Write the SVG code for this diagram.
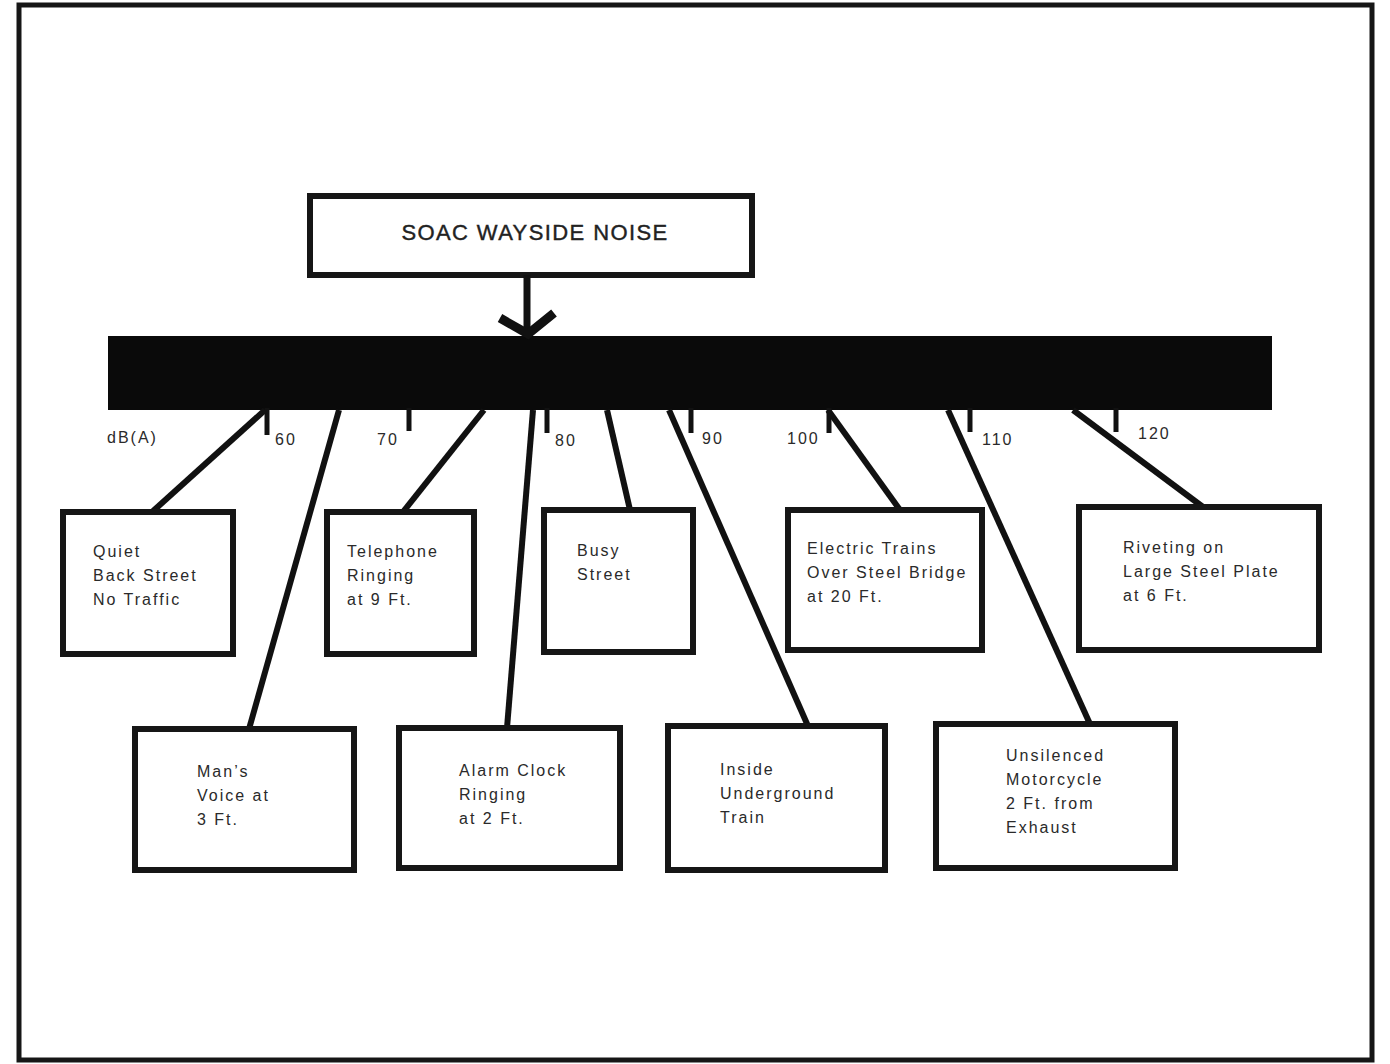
<svg xmlns="http://www.w3.org/2000/svg" width="1390" height="1064" viewBox="0 0 1390 1064">
<style>
.frame{fill:none;stroke:#161616;stroke-width:5}
.box{fill:#fff;stroke:#161616;stroke-width:6}
.conn{stroke:#111;stroke-width:6;fill:none;stroke-linecap:butt}
.tick{stroke:#111;stroke-width:5;fill:none}
.t{font-family:"Liberation Sans",Arial,sans-serif;font-size:16px;letter-spacing:2px;fill:#2a2a2a}
.title{font-family:"Liberation Sans",Arial,sans-serif;font-size:22px;letter-spacing:1.4px;fill:#222;stroke:#222;stroke-width:0.4}
</style>
<rect width="1390" height="1064" fill="#fff"/>
<rect class="frame" x="19" y="5" width="1353" height="1055"/>

<g id="title">
<rect class="box" x="310" y="196" width="442" height="79"/>
<text class="title" x="535" y="240" text-anchor="middle">SOAC WAYSIDE NOISE</text>
</g>

<g id="scale-bar">
<rect x="108" y="336" width="1164" height="74" fill="#0a0a0a"/>
<text class="t" x="107" y="443">dB(A)</text>
<g class="tick">
<line x1="267" y1="408" x2="267" y2="435"/>
<line x1="409" y1="408" x2="409" y2="431"/>
<line x1="547" y1="408" x2="547" y2="433"/>
<line x1="691" y1="408" x2="691" y2="433"/>
<line x1="829" y1="408" x2="829" y2="433"/>
<line x1="970" y1="408" x2="970" y2="432"/>
<line x1="1116" y1="408" x2="1116" y2="432"/>
</g>
<text class="t" x="275" y="445">60</text>
<text class="t" x="377" y="445">70</text>
<text class="t" x="555" y="446">80</text>
<text class="t" x="702" y="444">90</text>
<text class="t" x="787" y="444">100</text>
<text class="t" x="982" y="445">110</text>
<text class="t" x="1138" y="439">120</text>
</g>

<g id="connectors">
<line class="conn" x1="527" y1="275" x2="527" y2="336" style="stroke-width:7"/>
<polyline points="500,318 528,334 554,313" style="fill:none;stroke:#111;stroke-width:9"/>
<line class="conn" x1="265" y1="410" x2="152" y2="512"/>
<line class="conn" x1="339" y1="410" x2="249" y2="729"/>
<line class="conn" x1="484" y1="410" x2="403" y2="512"/>
<line class="conn" x1="533" y1="410" x2="507" y2="728"/>
<line class="conn" x1="607" y1="410" x2="630" y2="510"/>
<line class="conn" x1="669" y1="410" x2="808" y2="726"/>
<line class="conn" x1="828" y1="410" x2="900" y2="510"/>
<line class="conn" x1="948" y1="410" x2="1090" y2="724"/>
<line class="conn" x1="1073" y1="410" x2="1203" y2="507"/>
</g>

<g id="quiet">
<rect class="box" x="63" y="512" width="170" height="142"/>
<text class="t" x="93" y="557">Quiet</text>
<text class="t" x="93" y="581">Back Street</text>
<text class="t" x="93" y="605">No Traffic</text>
</g>
<g id="telephone">
<rect class="box" x="327" y="512" width="147" height="142"/>
<text class="t" x="347" y="557">Telephone</text>
<text class="t" x="347" y="581">Ringing</text>
<text class="t" x="347" y="605">at 9 Ft.</text>
</g>
<g id="busy">
<rect class="box" x="544" y="510" width="149" height="142"/>
<text class="t" x="577" y="556">Busy</text>
<text class="t" x="577" y="580">Street</text>
</g>
<g id="electric">
<rect class="box" x="788" y="510" width="194" height="140"/>
<text class="t" x="807" y="554">Electric Trains</text>
<text class="t" x="807" y="578">Over Steel Bridge</text>
<text class="t" x="807" y="602">at 20 Ft.</text>
</g>
<g id="riveting">
<rect class="box" x="1079" y="507" width="240" height="143"/>
<text class="t" x="1123" y="553">Riveting on</text>
<text class="t" x="1123" y="577">Large Steel Plate</text>
<text class="t" x="1123" y="601">at 6 Ft.</text>
</g>
<g id="mans-voice">
<rect class="box" x="135" y="729" width="219" height="141"/>
<text class="t" x="197" y="777">Man’s</text>
<text class="t" x="197" y="801">Voice at</text>
<text class="t" x="197" y="825">3 Ft.</text>
</g>
<g id="alarm">
<rect class="box" x="399" y="728" width="221" height="140"/>
<text class="t" x="459" y="776">Alarm Clock</text>
<text class="t" x="459" y="800">Ringing</text>
<text class="t" x="459" y="824">at 2 Ft.</text>
</g>
<g id="underground">
<rect class="box" x="668" y="726" width="217" height="144"/>
<text class="t" x="720" y="775">Inside</text>
<text class="t" x="720" y="799">Underground</text>
<text class="t" x="720" y="823">Train</text>
</g>
<g id="motorcycle">
<rect class="box" x="936" y="724" width="239" height="144"/>
<text class="t" x="1006" y="761">Unsilenced</text>
<text class="t" x="1006" y="785">Motorcycle</text>
<text class="t" x="1006" y="809">2 Ft. from</text>
<text class="t" x="1006" y="833">Exhaust</text>
</g>
</svg>
